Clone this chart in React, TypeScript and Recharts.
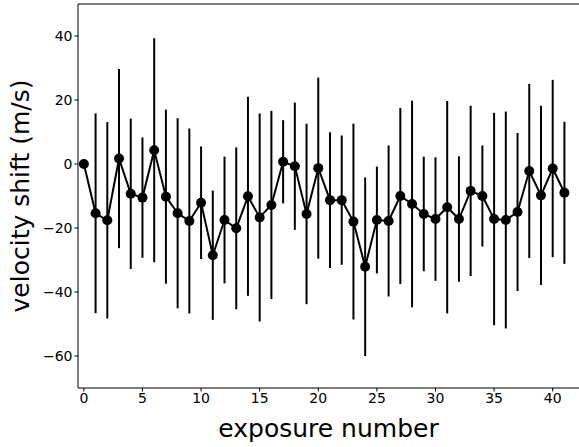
import { ErrorBar, Label, Line, LineChart, ReferenceLine, XAxis, YAxis } from "recharts";

const exposures = [
  0, 1, 2, 3, 4, 5, 6, 7, 8, 9, 10, 11, 12, 13, 14, 15, 16, 17, 18, 19, 20,
  21, 22, 23, 24, 25, 26, 27, 28, 29, 30, 31, 32, 33, 34, 35, 36, 37, 38, 39,
  40, 41,
];
const shifts = [
  0, -15.4, -17.6, 1.7, -9.3, -10.5, 4.3, -10.2, -15.4, -17.8, -12.1, -28.5,
  -17.5, -20.1, -10.1, -16.7, -12.8, 0.7, -0.7, -15.6, -1.3, -11.3, -11.3,
  -18.0, -32.1, -17.5, -17.8, -10.0, -12.5, -15.6, -17.2, -13.5, -17.2, -8.4,
  -10.0, -17.2, -17.5, -15.0, -2.2, -9.8, -1.4, -9.0,
];
const errors = [
  0, 31.2, 30.7, 28.0, 23.5, 18.8, 35.0, 27.2, 29.7, 28.9, 17.6, 20.2, 19.8,
  25.3, 31.1, 32.5, 29.4, 13.0, 19.9, 28.2, 28.3, 21.2, 20.2, 30.6, 27.9,
  16.7, 23.6, 27.5, 32.3, 17.9, 19.3, 33.2, 19.6, 26.6, 15.8, 33.2, 33.9,
  24.7, 27.2, 28.0, 27.7, 22.2,
];
const xTicks = [0, 5, 10, 15, 20, 25, 30, 35, 40];
const yTicks = [-60, -40, -20, 0, 20, 40];

const data = exposures.map((x, i) => ({ x, v: shifts[i], err: errors[i] }));

const font = "DejaVu Sans, sans-serif";
const tickStyle = { fontSize: 14, fill: "#000", fontFamily: font };
const minus = (v: number) => String(v).replace("-", "\u2212");

export default function App() {
  return (
    <div style={{ position: "absolute", left: 0, top: 0, width: 579, height: 447, overflow: "hidden", background: "#fff" }}>
      <LineChart width={582} height={447} data={data} margin={{ top: 4, right: 0, bottom: 0, left: 0 }}>
        <XAxis
          dataKey="x"
          type="number"
          domain={[-0.5, 42.5]}
          ticks={xTicks}
          tick={tickStyle}
          tickSize={3.5}
          tickLine={{ stroke: "#000" }}
          axisLine={{ stroke: "#000" }}
          height={59}
          allowDataOverflow
        >
          <Label
            content={({ viewBox }: any) => (
              <text
                x={328.5}
                y={viewBox.y + 49}
                textAnchor="middle"
                fontSize={25}
                fontFamily={font}
                fill="#000"
              >
                exposure number
              </text>
            )}
          />
        </XAxis>
        <YAxis
          type="number"
          domain={[-70, 50]}
          ticks={yTicks}
          tick={tickStyle}
          tickFormatter={minus}
          tickSize={3.5}
          tickLine={{ stroke: "#000" }}
          axisLine={{ stroke: "#000" }}
          width={78}
          allowDataOverflow
        >
          <Label
            content={({ viewBox }: any) => {
              const cy = viewBox.y + viewBox.height / 2;
              return (
                <text
                  x={29}
                  y={cy}
                  transform={`rotate(-90 29 ${cy})`}
                  textAnchor="middle"
                  fontSize={25}
                  fontFamily={font}
                  fill="#000"
                >
                  velocity shift (m/s)
                </text>
              );
            }}
          />
        </YAxis>
        <ReferenceLine y={50} stroke="#000" strokeWidth={1} />
        <Line
          dataKey="v"
          stroke="#000"
          strokeWidth={2}
          dot={{ r: 5, fill: "#000", stroke: "#000", strokeWidth: 0 }}
          activeDot={false}
          isAnimationActive={false}
        >
          <ErrorBar dataKey="err" width={0} stroke="#000" strokeWidth={2} isAnimationActive={false} />
        </Line>
      </LineChart>
    </div>
  );
}
